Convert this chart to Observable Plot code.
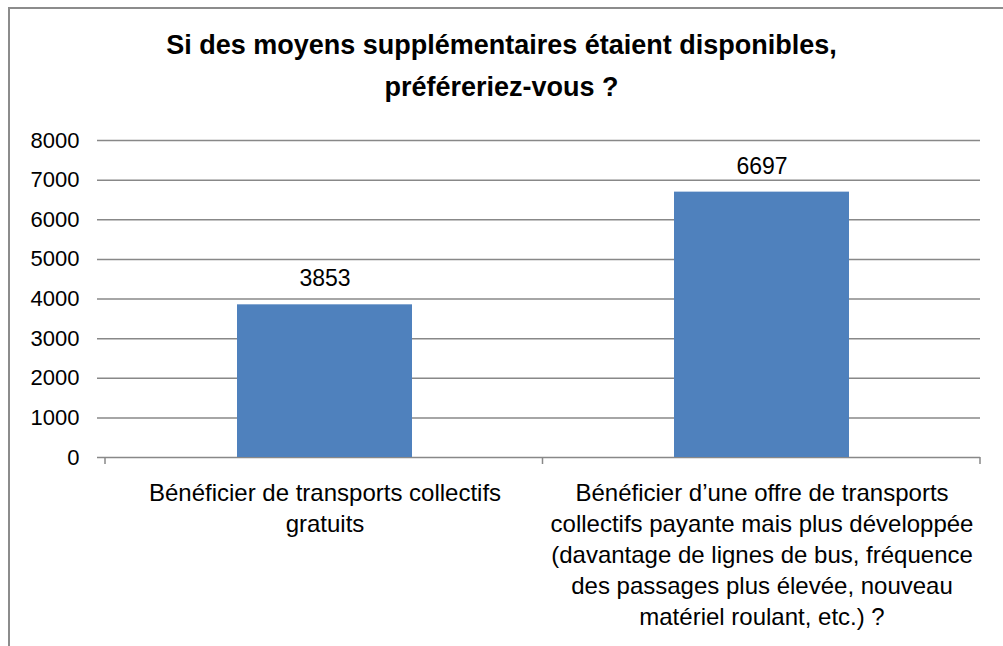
<!DOCTYPE html>
<html>
<head>
<meta charset="utf-8">
<script src="https://cdn.jsdelivr.net/npm/d3@7"></script>
<script src="https://cdn.jsdelivr.net/npm/@observablehq/plot@0.6"></script>
<style>
  html, body { margin: 0; padding: 0; background: #fff; }
  #frame {
    position: absolute; left: 8px; top: 7px; width: 1000px; height: 650px;
    border-left: 2px solid #8c8c8c; border-top: 2px solid #8c8c8c;
  }
  #title {
    position: absolute; left: 0; top: 24px; width: 1003px; text-align: center;
    font-family: "Liberation Sans", Arial, sans-serif; font-weight: bold;
    font-size: 27px; line-height: 42px; color: #000;
  }
  #chart { position: absolute; left: 0; top: 120px; }
  #chart svg { font-family: "Liberation Sans", Arial, sans-serif; }
</style>
</head>
<body>
<div id="frame"></div>
<div id="title">Si des moyens supplémentaires étaient disponibles,<br>préféreriez-vous ?</div>
<div id="chart"></div>
<script>
const categories = [
  "Bénéficier de transports collectifs\ngratuits",
  "Bénéficier d’une offre de transports\ncollectifs payante mais plus développée\n(davantage de lignes de bus, fréquence\ndes passages plus élevée, nouveau\nmatériel roulant, etc.) ?"
];
const values = [3853, 6697];
const yTicks = [0, 1000, 2000, 3000, 4000, 5000, 6000, 7000, 8000];

const data = categories.map((c, i) => ({cat: c, value: values[i]}));
const gridColor = "#888888";

// custom function mark: tick marks at the category boundaries of the band scale
function boundaryTicks(index, scales, values, dims) {
  const y = scales.y;
  const left = dims.marginLeft, right = dims.width - dims.marginRight;
  const step = (right - left) / categories.length;
  const g = d3.create("svg:g");
  for (let k = 0; k <= categories.length; k++) {
    const px = left + k * step;
    g.append("line")
      .attr("x1", px).attr("x2", px)
      .attr("y1", y(0)).attr("y2", y(0) + 7)
      .attr("stroke", gridColor).attr("stroke-width", 1.5);
  }
  return g.node();
}

const chart = Plot.plot({
  width: 1003,
  height: 526,
  marginLeft: 105,
  marginRight: 23,
  marginTop: 20,
  marginBottom: 189,
  x: {domain: categories, paddingInner: 0.6, paddingOuter: 0.3, axis: null},
  y: {domain: [0, 8000], axis: null},
  marks: [
    Plot.ruleY(yTicks, {y: d => d, stroke: gridColor, strokeWidth: 1.5, strokeOpacity: 1, insetLeft: -8}),
    Plot.barY(data, {x: "cat", y: "value", fill: "#4F81BD"}),
    Plot.ruleX([0], {frameAnchor: "left", y1: 0, y2: 8000, stroke: gridColor, strokeWidth: 1.5, insetBottom: -8}),
    Plot.axisY({ticks: yTicks, label: null, tickSize: 0, tickPadding: 26, fontSize: 22, tickFormat: d => String(d), fill: "#000", color: "#000"}),
    Plot.text(data, {x: "cat", y: "value", text: d => String(d.value), dy: -26, fontSize: 23, fill: "#000"}),
    Plot.text(data, {x: "cat", y: 0, text: "cat", lineAnchor: "top", dy: 22, fontSize: 24, lineHeight: 1.29, fill: "#000"}),
    boundaryTicks
  ]
});
document.getElementById("chart").appendChild(chart);
</script>
</body>
</html>
